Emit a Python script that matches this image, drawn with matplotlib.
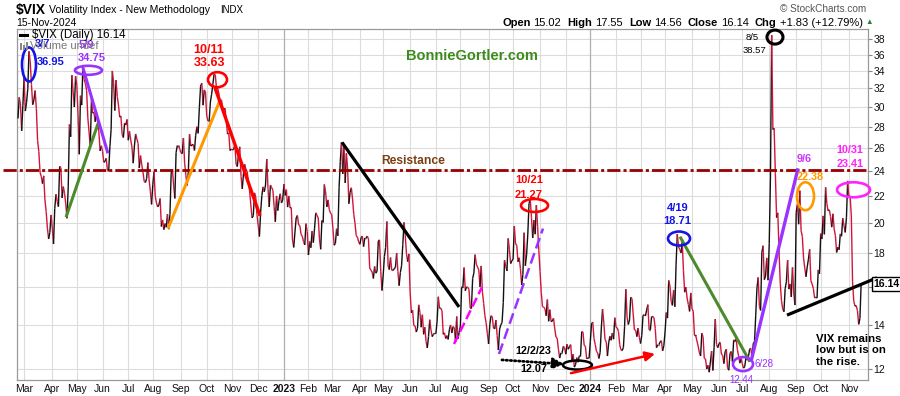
import numpy as np
import matplotlib
matplotlib.use('Agg')
import matplotlib.pyplot as plt
from matplotlib.collections import LineCollection
from matplotlib.patches import Ellipse, Rectangle
from matplotlib.transforms import ScaledTranslation, blended_transform_factory
from matplotlib.lines import Line2D
import matplotlib.ticker as mticker

plt.rcParams['font.family'] = ['Liberation Sans', 'DejaVu Sans']
plt.rcParams['lines.scale_dashes'] = False

# ---------------- data: VIX daily closes (Feb 22 2022 - Nov 15 2024) ----------------
vix_2022 = [
    # Feb (from 22nd)
    28.81, 31.02, 30.32, 27.59, 30.15,
    # Mar
    33.32, 29.57, 30.48, 31.98, 36.45, 35.13, 32.45, 30.23, 30.75, 31.77, 29.83, 26.67,
    25.67, 23.87, 23.53, 22.94, 23.57, 21.67, 20.81, 19.63, 18.90, 19.33, 20.56,
    # Apr
    19.63, 18.57, 21.03, 22.10, 21.55, 21.16, 24.37, 24.26, 21.82, 22.70, 22.17, 21.37,
    20.32, 22.68, 28.21, 27.02, 33.52, 31.60, 29.99, 33.40,
    # May
    32.34, 29.25, 25.42, 31.20, 30.19, 34.75, 32.99, 32.56, 31.77, 28.87, 27.47, 26.10,
    30.96, 29.35, 29.43, 28.48, 29.45, 28.37, 27.50, 25.72, 26.19,
    # Jun
    25.69, 24.72, 24.79, 25.07, 24.02, 23.96, 26.09, 27.75, 34.02, 32.69, 29.62, 32.95,
    31.13, 30.19, 28.95, 29.05, 27.23, 26.95, 28.36, 28.16, 28.71,
    # Jul
    26.70, 27.54, 26.73, 26.08, 24.64, 26.17, 27.29, 26.82, 26.40, 24.23, 25.30, 24.50,
    23.88, 23.11, 23.03, 23.36, 24.69, 23.24, 22.33, 21.33,
    # Aug
    22.84, 23.93, 21.95, 21.44, 21.15, 21.29, 21.77, 19.74, 20.20, 19.53, 19.95, 19.69,
    20.62, 19.56, 20.60, 23.80, 24.11, 22.82, 21.78, 25.56, 26.21, 26.21, 25.87,
    # Sep
    25.56, 25.47, 26.91, 24.64, 23.61, 22.79, 23.87, 27.27, 26.16, 26.27, 26.30, 25.76,
    27.16, 27.99, 27.35, 29.92, 32.26, 32.60, 30.18, 31.84, 31.62,
    # Oct
    29.07, 28.55, 28.55, 30.52, 31.36, 32.45, 33.63, 33.57, 31.94, 32.02, 31.37, 30.50,
    30.76, 29.98, 29.69, 29.85, 28.46, 27.28, 27.39, 25.75, 25.88,
    # Nov
    25.81, 25.86, 26.30, 24.55, 24.35, 25.54, 26.09, 23.53, 22.52, 23.73, 24.54, 24.11,
    23.93, 23.12, 22.36, 21.29, 20.35, 20.50, 22.21, 21.89, 20.58,
    # Dec
    19.84, 19.06, 20.75, 22.01, 22.68, 22.29, 22.83, 25.00, 22.55, 21.14, 22.83, 22.62,
    22.42, 21.17, 20.07, 21.97, 20.87, 21.65, 22.14, 21.44, 21.67,
]
vix_2023 = [
    # Jan
    22.90, 22.01, 22.46, 21.13, 21.97, 21.07, 21.09, 18.83, 18.35, 19.36, 20.34, 20.52,
    19.85, 19.81, 19.20, 19.08, 18.73, 18.51, 19.94, 19.40,
    # Feb
    17.87, 18.73, 18.33, 19.43, 18.66, 19.63, 20.71, 20.53, 20.34, 18.91, 18.23, 20.17,
    20.02, 22.87, 22.29, 21.14, 21.67, 20.95, 20.70,
    # Mar
    20.58, 19.59, 18.49, 18.61, 19.59, 19.11, 22.61, 24.80, 26.52, 23.73, 26.14, 22.99,
    25.51, 24.12, 21.38, 22.26, 22.61, 21.74, 20.60, 19.97, 19.12, 19.02, 18.70,
    # Apr
    18.55, 19.00, 19.08, 18.40, 18.97, 18.97, 19.09, 18.91, 17.07, 16.95, 16.83, 16.46,
    17.17, 16.77, 16.89, 18.76, 18.84, 16.89, 15.78,
    # May
    16.66, 17.78, 18.34, 20.09, 17.19, 16.98, 17.71, 16.94, 16.93, 17.03, 17.12, 17.99,
    16.87, 16.05, 16.81, 17.21, 18.53, 20.03, 19.14, 17.95, 17.46, 17.94,
    # Jun
    15.65, 14.60, 14.73, 13.96, 13.94, 13.65, 13.83, 15.01, 14.61, 13.88, 14.50, 13.54,
    13.88, 13.20, 12.91, 13.44, 14.25, 13.74, 13.43, 13.54, 13.59,
    # Jul
    13.57, 14.18, 15.44, 14.83, 14.84, 14.69, 13.54, 13.61, 13.34, 13.48, 13.30, 13.76,
    13.99, 13.60, 13.91, 13.86, 13.19, 14.41, 13.33, 13.63,
    # Aug
    13.93, 15.99, 15.92, 17.10, 15.77, 15.99, 15.96, 15.85, 14.84, 14.82, 16.46, 16.78,
    17.89, 17.30, 17.13, 16.97, 15.98, 17.20, 15.68, 15.08, 14.45, 14.10, 13.57,
    # Sep
    13.09, 14.01, 14.45, 14.40, 13.84, 13.80, 14.23, 13.48, 12.82, 13.79, 14.00, 14.11,
    15.14, 17.54, 17.20, 16.90, 18.94, 18.22, 17.34, 17.52,
    # Oct
    17.61, 19.78, 18.58, 18.49, 17.45, 17.70, 17.03, 16.09, 16.69, 19.32, 17.21, 17.88,
    19.22, 21.40, 21.71, 20.37, 18.97, 20.19, 19.22, 21.27, 19.75, 18.14,
    # Nov
    16.87, 15.66, 14.91, 14.89, 14.81, 14.45, 15.29, 14.17, 14.76, 14.16, 14.18, 14.32,
    13.80, 13.41, 13.35, 12.85, 12.46, 12.69, 12.69, 12.98, 12.92,
    # Dec
    12.63, 13.08, 12.85, 12.97, 13.06, 12.35, 12.63, 12.07, 12.19, 12.48, 12.28, 12.56,
    12.53, 13.67, 13.65, 13.03, 12.99, 12.43, 12.47, 12.45,
]
vix_2024 = [
    # Jan
    13.20, 14.04, 14.13, 13.35, 13.08, 12.76, 12.69, 12.44, 12.70, 13.84, 14.79, 14.13,
    13.30, 13.19, 12.55, 13.14, 13.45, 13.26, 13.60, 13.31, 14.35,
    # Feb
    13.88, 13.85, 13.67, 13.06, 12.83, 12.79, 12.93, 13.93, 15.85, 14.38, 14.01, 14.24,
    15.42, 15.34, 14.54, 13.75, 13.74, 13.43, 13.84, 13.40,
    # Mar
    13.11, 13.49, 14.46, 14.50, 14.44, 14.74, 15.02, 13.75, 13.75, 14.40, 14.41, 14.33,
    13.82, 12.92, 13.06, 13.06, 13.19, 13.24, 12.78, 13.01,
    # Apr
    13.65, 14.61, 14.33, 16.35, 16.03, 15.19, 14.98, 15.80, 14.91, 17.31, 19.23, 18.40,
    18.21, 18.00, 18.71, 16.94, 15.69, 15.97, 15.37, 15.03, 14.67, 15.65,
    # May
    14.80, 14.68, 13.49, 13.49, 13.23, 13.00, 12.69, 12.55, 13.60, 13.42, 12.45, 12.42,
    11.99, 12.15, 11.86, 12.29, 12.77, 11.93, 12.92, 14.28, 13.06, 12.92,
    # Jun
    13.11, 13.16, 12.63, 12.58, 12.22, 12.74, 12.85, 12.04, 11.94, 12.66, 12.75, 12.30,
    13.28, 13.20, 13.33, 12.84, 12.55, 12.24, 12.44,
    # Jul
    12.22, 12.03, 12.09, 12.48, 12.37, 12.51, 12.85, 12.89, 12.46, 13.12, 13.19, 14.48,
    15.93, 16.52, 14.91, 14.72, 18.04, 18.46, 16.39, 16.60, 17.69, 16.36,
    # Aug
    18.59, 23.39, 38.57, 27.71, 27.85, 23.79, 20.37, 20.71, 18.12, 16.19, 15.23, 14.80,
    14.65, 15.88, 16.27, 17.55, 15.86, 16.15, 15.43, 17.11, 15.65, 15.00,
    # Sep
    20.72, 21.32, 19.90, 22.38, 19.45, 19.08, 17.69, 17.07, 16.56, 17.14, 17.61, 18.23,
    16.33, 16.15, 15.89, 15.39, 15.41, 15.37, 16.96, 16.73,
    # Oct
    19.26, 18.90, 20.49, 19.21, 22.64, 21.42, 20.86, 20.93, 20.46, 19.70, 20.64, 19.58,
    19.11, 18.03, 18.37, 18.20, 19.24, 19.08, 20.33, 19.80, 19.34, 20.35, 23.16,
    # Nov
    21.88, 21.98, 20.49, 16.27, 15.20, 14.94, 14.97, 14.71, 14.02, 14.31, 16.14,
]

# trading days per month, starting with the partial Feb 2022
month_trading_days = [5, 23, 20, 21, 21, 20, 23, 21, 21, 21, 21,
                      20, 19, 23, 19, 22, 21, 20, 23, 20, 22, 21, 20,
                      21, 20, 20, 22, 22, 19, 22, 22, 20, 23, 11]
month_labels = ['Feb', 'Mar', 'Apr', 'May', 'Jun', 'Jul', 'Aug', 'Sep', 'Oct', 'Nov', 'Dec',
                '2023', 'Feb', 'Mar', 'Apr', 'May', 'Jun', 'Jul', 'Aug', 'Sep', 'Oct', 'Nov', 'Dec',
                '2024', 'Feb', 'Mar', 'Apr', 'May', 'Jun', 'Jul', 'Aug', 'Sep', 'Oct', 'Nov']
y_ticks = [12, 14, 16, 18, 20, 22, 24, 26, 28, 30, 32, 34, 36, 38]
resistance = 24.1
last_close = 16.14

# ---------------- figure ----------------
values = np.array(vix_2022 + vix_2023 + vix_2024)
x = np.arange(len(values))
month_starts = np.cumsum([0] + month_trading_days[:-1])

fig = plt.figure(figsize=(9, 3.96), dpi=100)
ax = fig.add_axes([17 / 900, 16 / 396, 851 / 900, 351 / 396])
ax.set_yscale('log')

pts = np.column_stack([x, values])
segs = np.stack([pts[:-1], pts[1:]], axis=1)
cols = np.where(values[1:] >= values[:-1], '#111111', '#d2143a')
lc = LineCollection(segs, colors=cols, linewidths=1.0, zorder=3)
ax.add_collection(lc)

# axes formatting
ax.set_xlim(-0.8, 693.6)
ax.set_ylim(11.54, 39.4)
ax.set_xticks(month_starts[1:])
ax.set_xticklabels(month_labels[1:])
for t in ax.get_xticklabels():
    if t.get_text() in ('2023', '2024'):
        t.set_fontweight('bold')
ax.yaxis.tick_right()
ax.set_yticks(y_ticks)
# the 16 label sits under the last-value box in the reference
ax.set_yticklabels(['' if v == 16 else str(v) for v in y_ticks])
ax.yaxis.set_minor_locator(mticker.NullLocator())
ax.tick_params(axis='x', length=0, pad=3, labelsize=7.5, colors='#111111')
ax.tick_params(axis='y', length=3, width=0.8, pad=1, labelsize=7.5, color='#888888', labelcolor='#111111')
ax.grid(True, color='#dcdcdc', lw=0.8, zorder=0)
ax.set_axisbelow(True)
for yr in ('2023', '2024'):
    ax.axvline(month_starts[month_labels.index(yr)], color='#b0b0b0', lw=0.9, zorder=1)
for s in ax.spines.values():
    s.set_color('#9a9a9a')
    s.set_linewidth(0.9)

# ---------------- annotations ----------------
def ellipse(xc, yc, w_px, h_px, color, lw=1.9):
    tr = fig.dpi_scale_trans + ScaledTranslation(xc, yc, ax.transData)
    e = Ellipse((0, 0), w_px / 100, h_px / 100, transform=tr, fill=False,
                edgecolor=color, lw=lw, clip_on=False, zorder=5)
    ax.add_artist(e)

def seg(p0, p1, color, lw=2.2, **kw):
    ax.plot([p0[0], p1[0]], [p0[1], p1[1]], color=color, lw=lw,
            solid_capstyle='butt', zorder=4, clip_on=False, **kw)

def txt(xv, yv, s, color, size=8, weight='bold', ha='center', va='center', **kw):
    ax.text(xv, yv, s, color=color, fontsize=size, fontweight=weight, ha=ha, va=va,
            zorder=6, clip_on=False, parse_math=False, **kw)

BLUE = '#1414e6'
PURPLE = '#9933ff'
RED = '#ff0000'
ORANGE = '#ff9900'
GREEN = '#4c8a2b'
MAGENTA = '#ff22ff'

# resistance
ax.plot([-12, 693.6], [resistance, resistance], color='#990000', lw=2.0,
        dashes=[9.5, 2.2, 2.2, 2.2], clip_on=False, zorder=4)
txt(322.3, 24.86, 'Resistance', '#7b3f12', size=8.7)

# 3/7
ellipse(9.0, 34.8, 14, 34, BLUE)
txt(20.4, 37.35, '3/7', BLUE, size=8)
txt(26.9, 35.1, '36.95', BLUE, size=8)
# 5/9
ellipse(57.5, 34.1, 27, 9, PURPLE)
txt(55.5, 37.2, '5/9', PURPLE, size=8)
txt(60.4, 35.6, '34.75', PURPLE, size=8)
seg((39.2, 20.4), (65.3, 28.3), GREEN)
seg((53.0, 34.4), (73.4, 25.5), PURPLE)
# 10/11
ellipse(162.8, 33.0, 19, 15, RED)
txt(155.9, 36.6, '10/11', RED, size=9)
txt(155.9, 34.97, '33.63', RED, size=9)
seg((122.4, 19.6), (164.8, 30.7), ORANGE)
seg((160.7, 32.1), (197.5, 20.5), RED, lw=2.4)
# 2023 downtrend
seg((264.4, 26.5), (359.9, 14.9), 'black', lw=2.3)
# 10/21
ellipse(421.5, 21.25, 27, 13, RED)
txt(417.0, 23.2, '10/21', RED, size=8)
txt(417.0, 22.03, '21.27', RED, size=8)
seg((355.8, 13.09), (378.6, 15.97), '#ff00ff', lw=1.8, dashes=[7, 3])
seg((392.5, 12.64), (428.4, 19.6), PURPLE, lw=1.8, dashes=[8, 3.5])
# 12/2/23
txt(420.6, 12.77, '12/2/23', 'black', size=7.8)
txt(421.1, 11.99, '12.07', 'black', size=7.8)
ax.annotate('', xy=(445.5, 12.2), xytext=(394.9, 12.38),
            arrowprops=dict(arrowstyle='-|>', linestyle=(0, (1, 2)), lw=2.0,
                            color='black', mutation_scale=16, shrinkA=0, shrinkB=0),
            zorder=5)
ellipse(456.5, 12.16, 29, 9, 'black', lw=1.8)
ax.annotate('', xy=(519.8, 12.64), xytext=(451.2, 11.82),
            arrowprops=dict(arrowstyle='-|>', lw=1.8, color=RED, mutation_scale=14,
                            shrinkA=0, shrinkB=0), zorder=5, annotation_clip=False)
# 4/19
ellipse(539.4, 18.93, 22, 14, BLUE)
txt(538.1, 21.05, '4/19', BLUE, size=8)
txt(538.1, 20.1, '18.71', BLUE, size=8)
seg((540.2, 19.05), (597.3, 12.3), GREEN)
# 6/28
ellipse(591.6, 12.2, 20, 14, PURPLE)
txt(600.6, 12.2, '6/28', PURPLE, size=7, weight='normal', ha='left')
txt(590.4, 11.54, '12.44', PURPLE, size=7, weight='normal')
seg((598.1, 12.3), (636.5, 24.2), PURPLE, lw=2.4)
# 8/5
ellipse(617.7, 38.3, 16, 14, 'black', lw=2.2)
txt(604.6, 38.3, '8/5', 'black', size=6.8, weight='normal', ha='right')
txt(610.4, 36.6, '38.57', 'black', size=6.8, weight='normal', ha='right')
# 9/6
txt(635.6, 24.97, '9/6', '#cc33ff', size=7.8, ha='left')
txt(635.6, 23.5, '22.38', ORANGE, size=7.8, ha='left')
ellipse(642.6, 21.95, 17, 28, ORANGE)
# 10/31
txt(678.9, 25.8, '10/31', MAGENTA, size=7.8)
txt(678.9, 24.6, '23.41', MAGENTA, size=7.8)
ellipse(681.8, 22.45, 33, 15, MAGENTA)
# rising support
seg((627.5, 14.48), (700.9, 16.5), 'black', lw=2.3)
txt(651.2, 12.8, 'VIX remains\nlow but is on\nthe rise.', 'black', size=8.2, ha='left',
    linespacing=1.15)

# last value box
btr = blended_transform_factory(ax.transAxes, ax.transData)
ax.text(1.0065, last_close, '16.14', transform=btr, fontsize=7.6, fontweight='bold',
        ha='left', va='center', clip_on=False, zorder=7,
        bbox=dict(boxstyle='square,pad=0.18', fc='white', ec='black', lw=1.0))

# ---------------- header texts ----------------
def ftxt(px, py, s, **kw):
    return fig.text(px / 900, 1 - py / 396, s, va='center', parse_math=False, **kw)

ftxt(16, 10, '$VIX', fontsize=10, fontweight='bold')
ftxt(49, 10, 'Volatility Index - New Methodology', fontsize=7.6)
ftxt(220, 10, 'INDX', fontsize=7)
ftxt(16, 23, '15-Nov-2024', fontsize=7.5)
ftxt(866, 9, '\u00a9 StockCharts.com', fontsize=7.2, color='#555555', ha='right')
ftxt(406, 56, 'BonnieGortler.com', fontsize=10.5, fontweight='bold', color='#3d8b1c')

fig.add_artist(Line2D([20 / 900, 27 / 900], [1 - 35 / 396] * 2, color='black', lw=2.2))
ftxt(32, 35, '$VIX (Daily) 16.14', fontsize=8.3)
# small volume icon
for bx, bh in ((19.5, 7), (22.5, 5), (25.5, 8)):
    fig.add_artist(Rectangle((bx / 900, 1 - 50 / 396), 2 / 900, bh / 396,
                             facecolor='#888888', edgecolor='none'))
ftxt(30, 46, 'Volume undef', fontsize=8, color='#777777')

renderer = fig.canvas.get_renderer()
pieces = [('Open', 'bold', 3), ('15.02', 'normal', 6), ('High', 'bold', 3), ('17.55', 'normal', 6),
          ('Low', 'bold', 3), ('14.56', 'normal', 6), ('Close', 'bold', 3), ('16.14', 'normal', 6),
          ('Chg', 'bold', 3), ('+1.83 (+12.79%)', 'normal', 3)]
xpos = 502
for s, w, gap in pieces:
    t = ftxt(xpos, 23, s, fontsize=8, fontweight=w)
    bb = t.get_window_extent(renderer)
    xpos += bb.width + gap
ftxt(xpos, 22, '\u25b2', fontsize=5.5, color='#2e7d32')

fig.savefig('out.png', dpi=100)
